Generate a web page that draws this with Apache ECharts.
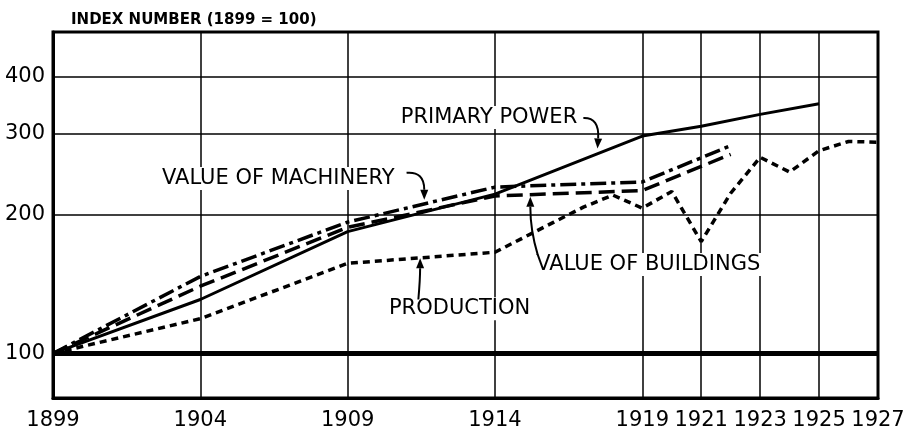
<!DOCTYPE html>
<html>
<head>
<meta charset="utf-8">
<title>Index numbers 1899-1927</title>
<script src="https://cdn.jsdelivr.net/npm/echarts@6/dist/echarts.min.js"></script>
<style>
html, body { margin: 0; padding: 0; background: #fff; }
#chart { width: 905px; height: 435px; }
</style>
</head>
<body>
<div id="chart"></div>
<script>
// tick labels
var yearTicks = [1899, 1904, 1909, 1914, 1919, 1921, 1923, 1925, 1927];
var indexTicks = [100, 200, 300, 400];

// primary power
var powerYears = [1899, 1904, 1909, 1914, 1919, 1921, 1923, 1925];
var powerValues = [100, 131, 184, 222, 297, 312, 331, 349];

// value of machinery
var machineryYears = [1899, 1904, 1909, 1914, 1919, 1922];
var machineryValues = [100, 147, 193, 230, 236, 283];

// value of buildings
var buildingsYears = [1899, 1904, 1909, 1914, 1919, 1922];
var buildingsValues = [100, 140, 188, 220, 226, 271];

// production
var productionYears = [1899, 1904, 1909, 1914, 1915, 1916, 1917, 1918, 1919, 1920, 1921, 1922, 1923, 1924, 1925, 1926, 1927];
var productionValues = [100, 119, 157, 166, 179, 193, 208, 221, 207, 225, 175, 223, 267, 248, 276, 289, 288];

// base line (1899 = 100)
var baseYears = [1899, 1927];
var baseValues = [100, 100];

var FONT = "'DejaVu Sans', sans-serif";

/**
 * 对数坐标：y 轴使用 log10 值
 */
function toLog(years, values) {
	return years.map(function(y, i) {
		return [y, Math.log10(values[i])];
	});
}

function lineSeries(name, years, values, type, width) {
	return {
		name : name,
		type : 'line',
		data : toLog(years, values),
		symbol : 'none',
		silent : true,
		lineStyle : { color : '#000', width : width, type : type, cap : 'butt' }
	};
}

var myChart = echarts.init(document.getElementById('chart'));

var option = {
	animation : false,
	backgroundColor : '#fff',
	title : {
		text : 'INDEX NUMBER (1899 = 100)',
		left : 66,
		top : 8,
		textStyle : { fontFamily : FONT, fontSize : 15, fontWeight : 'bold', color : '#000' }
	},
	grid : {
		left : 53, right : 27, top : 32, bottom : 37,
		show : true, borderColor : '#000', borderWidth : 3,
		outerBoundsMode : 'none'
	},
	xAxis : {
		type : 'value',
		min : 1899,
		max : 1927,
		axisLine : { show : true, onZero : false, lineStyle : { color : '#000', width : 3 } },
		axisTick : { show : false, customValues : yearTicks },
		axisLabel : {
			customValues : yearTicks,
			margin : 12,
			color : '#000',
			fontFamily : FONT,
			fontSize : 21,
			formatter : function(v) { return String(v); }
		},
		splitLine : { show : true, lineStyle : { color : '#000', width : 1.5 } }
	},
	yAxis : {
		type : 'value',
		min : Math.log10(80),
		max : Math.log10(500),
		axisLine : { show : true, lineStyle : { color : '#000', width : 3 } },
		axisTick : { show : false, customValues : indexTicks.map(Math.log10) },
		axisLabel : {
			customValues : indexTicks.map(Math.log10),
			margin : 8,
			color : '#000',
			fontFamily : FONT,
			fontSize : 21,
			formatter : function(v) { return String(Math.round(Math.pow(10, v))); }
		},
		splitLine : { show : true, lineStyle : { color : '#000', width : 1.5 } }
	},
	series : [
		lineSeries('base', baseYears, baseValues, 'solid', 5),
		lineSeries('Production', productionYears, productionValues, [7, 5], 3.5),
		lineSeries('Value of Buildings', buildingsYears, buildingsValues, [16, 7], 3.5),
		lineSeries('Value of Machinery', machineryYears, machineryValues, [16, 5, 4, 5], 3.5),
		lineSeries('Primary Power', powerYears, powerValues, 'solid', 3)
	]
};

myChart.setOption(option);

/*************************** 标注文字和箭头 ***************************/
function px(year, value) {
	return myChart.convertToPixel({ gridIndex : 0 }, [year, Math.log10(value)]);
}

function labelText(text, year, value) {
	var p = px(year, value);
	return {
		type : 'text',
		x : p[0], y : p[1],
		z : 10,
		style : {
			text : text, fill : '#000',
			font : '21px ' + FONT,
			backgroundColor : '#fff',
			padding : [1, 3],
			textAlign : 'left', textVerticalAlign : 'middle'
		}
	};
}

function arrow(from, ctrl, to) {
	var a = px(from[0], from[1]), c = px(ctrl[0], ctrl[1]), b = px(to[0], to[1]);
	var dx = b[0] - c[0], dy = b[1] - c[1];
	var len = Math.sqrt(dx * dx + dy * dy) || 1;
	var ux = dx / len, uy = dy / len;
	var hl = 10, hw = 4;
	var bx = b[0] - ux * hl, by = b[1] - uy * hl;
	return [{
		type : 'bezierCurve',
		z : 10,
		shape : { x1 : a[0], y1 : a[1], cpx1 : c[0], cpy1 : c[1], x2 : bx, y2 : by },
		style : { stroke : '#000', lineWidth : 2, fill : null }
	}, {
		type : 'polygon',
		z : 10,
		shape : { points : [[b[0], b[1]], [bx - uy * hw, by + ux * hw], [bx + uy * hw, by - ux * hw]] },
		style : { fill : '#000' }
	}];
}

var graphics = [
	labelText('PRIMARY POWER', 1910.7, 326),
	labelText('VALUE OF MACHINERY', 1902.6, 240),
	labelText('VALUE OF BUILDINGS', 1915.3, 156),
	labelText('PRODUCTION', 1910.3, 125)
];
graphics = graphics
	.concat(arrow([1917.0, 325], [1917.55, 326], [1917.48, 279]))
	.concat(arrow([1911.0, 247], [1911.6, 249], [1911.6, 216]))
	.concat(arrow([1915.45, 164], [1915.2, 185], [1915.2, 219]))
	.concat(arrow([1911.4, 131], [1911.46, 145], [1911.46, 161]));

myChart.setOption({ graphic : graphics });
</script>
</body>
</html>
